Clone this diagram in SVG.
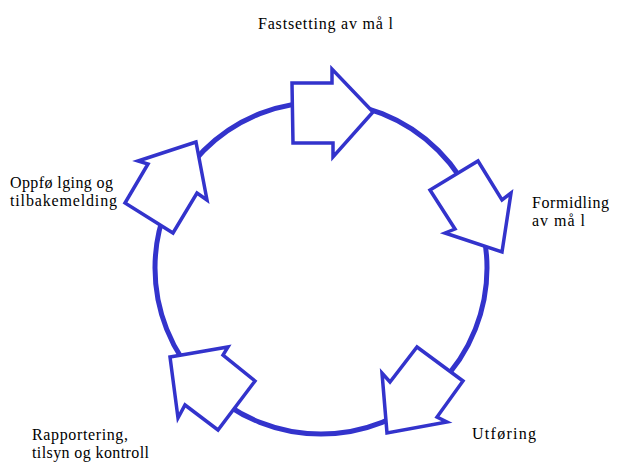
<svg xmlns="http://www.w3.org/2000/svg" width="617" height="464" viewBox="0 0 617 464">
<style>
.ring{fill:none;stroke:#3333CC;stroke-width:5}
.arrow{fill:#FFFFFF;stroke:#3333CC;stroke-width:3.5;stroke-linejoin:miter}
.lbl{font-family:"Liberation Serif","Times New Roman",serif;font-size:16px;fill:#000000}
</style>
<rect width="617" height="464" fill="#FFFFFF"/>
<g id="connectors">
<circle class="ring" cx="321" cy="268" r="166"/>
</g>
<g id="node-fastsetting">
<polygon class="arrow" points="373,112 332,69 332,83 292,83 293,143 333,143 333,157"/>
<text class="lbl" x="258" y="29" textLength="135" lengthAdjust="spacing">Fastsetting av må l</text>
</g>
<g id="node-formidling">
<polygon class="arrow" points="502,252 511,193 502,200 478,161 430,190 455,229 445,233"/>
<text class="lbl" x="532" y="208" textLength="77" lengthAdjust="spacing">Formidling</text>
<text class="lbl" x="532" y="226" textLength="53" lengthAdjust="spacing">av må l</text>
</g>
<g id="node-utforing">
<polygon class="arrow" points="387,433 382,373 390,382 417,347 463,381 437,417 447,422"/>
<text class="lbl" x="472" y="439" textLength="64" lengthAdjust="spacing">Utføring</text>
</g>
<g id="node-rapportering">
<polygon class="arrow" points="170,357 228,347 223,355 255,381 218,430 185,405 178,418"/>
<text class="lbl" x="32" y="440" textLength="96" lengthAdjust="spacing">Rapportering,</text>
<text class="lbl" x="32" y="458" textLength="117" lengthAdjust="spacing">tilsyn og kontroll</text>
</g>
<g id="node-oppfolging">
<polygon class="arrow" points="196,142 138,161 148,164 125,203 173,233 197,193 207,200"/>
<text class="lbl" x="10" y="188" textLength="103" lengthAdjust="spacing">Oppfø lging og</text>
<text class="lbl" x="10" y="206" textLength="107" lengthAdjust="spacing">tilbakemelding</text>
</g>
</svg>
